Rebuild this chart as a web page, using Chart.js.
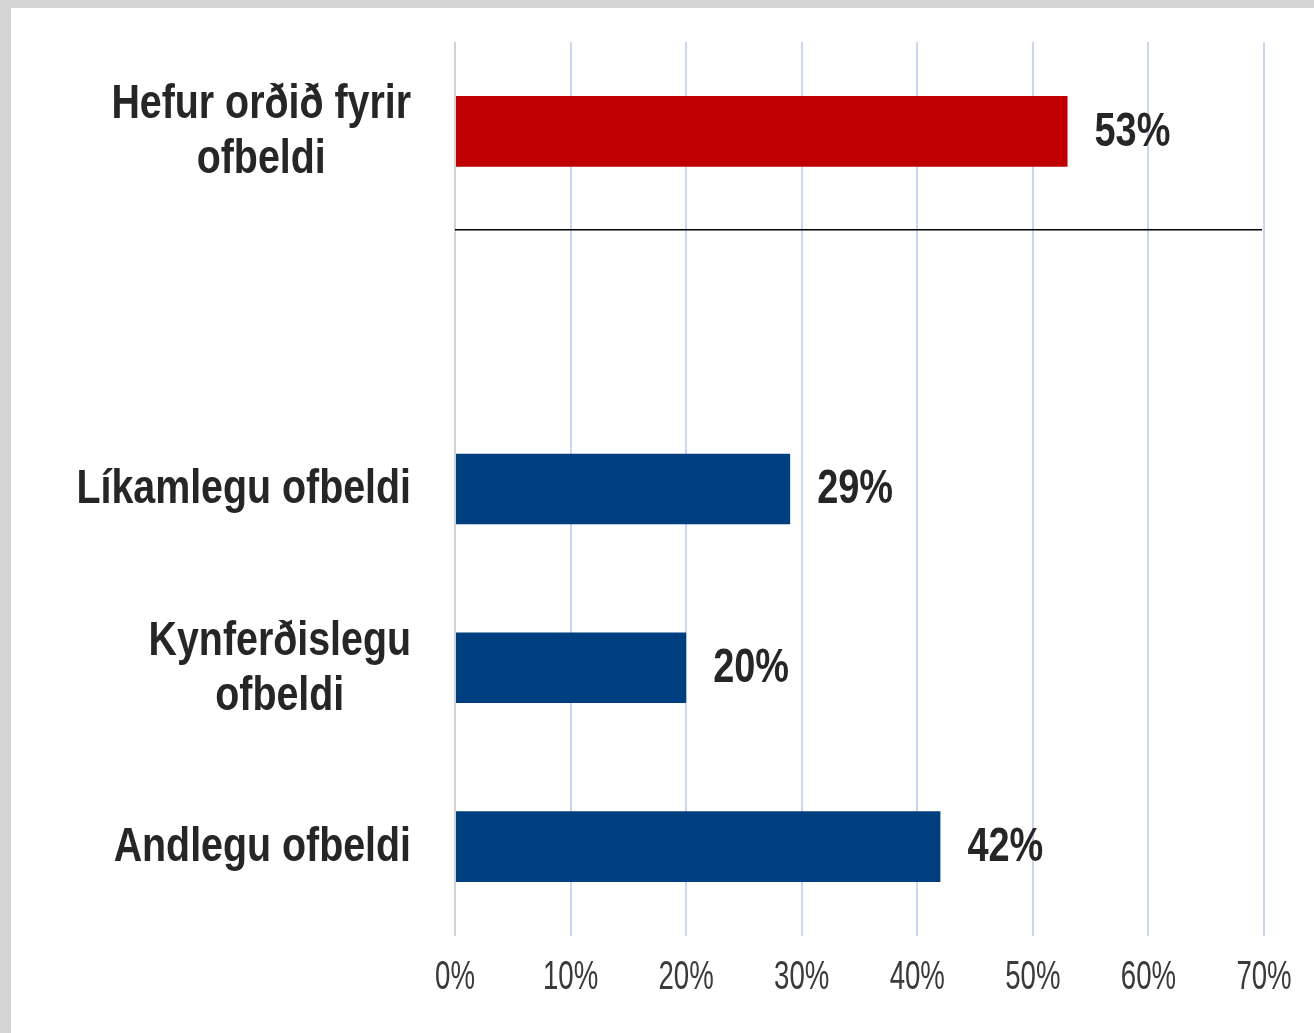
<!DOCTYPE html>
<html>
<head>
<meta charset="utf-8">
<script src="https://cdn.jsdelivr.net/npm/chart.js@4"></script>
<style>
  html, body { margin: 0; padding: 0; background: #d4d4d4; width: 1314px; height: 1033px; overflow: hidden; }
  #frame { position: absolute; left: 11px; top: 8px; width: 1303px; height: 1025px; background: #ffffff; }
  #wrap { position: relative; width: 1303px; height: 1025px; }
</style>
</head>
<body>
<div id="frame"><div id="wrap"><canvas id="c"></canvas></div></div>
<script>
const categories = [['Hefur orðið fyrir', 'ofbeldi'], '', 'Líkamlegu ofbeldi', ['Kynferðislegu', 'ofbeldi'], 'Andlegu ofbeldi'];
const values = [53, null, 29, 20, 42];
const barColors = ['#C00000', 'rgba(0,0,0,0)', '#003F7F', '#003F7F', '#003F7F'];
const xTickValues = [0, 10, 20, 30, 40, 50, 60, 70];
const separatorAfter = 0.55; // between first group and the rest (category units)

const FONT = "'Liberation Sans', Arial, sans-serif";

// draw text horizontally condensed (the source uses a narrow face)
function narrowText(ctx, text, x, y, sx) {
  ctx.save();
  ctx.translate(x, y);
  ctx.scale(sx, 1);
  ctx.fillText(text, 0, 0);
  ctx.restore();
}

const categoryLabelPlugin = {
  id: 'categoryLabels',
  afterDraw(chart) {
    const y = chart.scales.y;
    const ctx = chart.ctx;
    const sx = 0.82;
    ctx.save();
    ctx.font = "bold 48px " + FONT;
    ctx.fillStyle = '#262626';
    ctx.textAlign = 'center';
    ctx.textBaseline = 'middle';
    const rightEdge = chart.chartArea.left - 44;
    const lh = 55;
    categories.forEach((lab, i) => {
      const lines = Array.isArray(lab) ? lab : [lab];
      if (!lines.join('')) return;
      const w = Math.max(...lines.map(l => ctx.measureText(l).width)) * sx;
      const cx = rightEdge - w / 2;
      const cy = y.getPixelForTick(i) + 1;
      lines.forEach((l, j) => {
        narrowText(ctx, l, cx, cy + (j - (lines.length - 1) / 2) * lh, sx);
      });
    });
    ctx.restore();
  }
};

const valueLabelPlugin = {
  id: 'valueLabels',
  afterDatasetsDraw(chart) {
    const ctx = chart.ctx;
    const meta = chart.getDatasetMeta(0);
    ctx.save();
    ctx.font = "bold 48px " + FONT;
    ctx.fillStyle = '#262626';
    ctx.textAlign = 'left';
    ctx.textBaseline = 'middle';
    meta.data.forEach((el, i) => {
      if (values[i] == null) return;
      narrowText(ctx, values[i] + '%', el.x + 27, el.y + 1, 0.79);
    });
    ctx.restore();
  }
};

const separatorPlugin = {
  id: 'separator',
  afterDatasetsDraw(chart) {
    const ctx = chart.ctx;
    const y = chart.scales.y.getPixelForValue(separatorAfter);
    ctx.save();
    ctx.strokeStyle = '#000000';
    ctx.lineWidth = 1.5;
    ctx.beginPath();
    ctx.moveTo(chart.chartArea.left, y);
    ctx.lineTo(chart.chartArea.right - 2, y);
    ctx.stroke();
    ctx.restore();
  }
};

// condense the x-axis tick labels drawn by the library (scales are drawn between these hooks)
const condensedTicksPlugin = {
  id: 'condensedTicks',
  beforeDraw(chart) {
    const ctx = chart.ctx;
    const orig = ctx.fillText;
    ctx.fillText = function (t, x, y, mw) {
      this.save();
      this.translate(x, y);
      this.scale(0.69, 1);
      if (mw !== undefined) orig.call(this, t, 0, 0, mw); else orig.call(this, t, 0, 0);
      this.restore();
    };
  },
  beforeDatasetsDraw(chart) {
    delete chart.ctx.fillText;
  }
};

new Chart(document.getElementById('c'), {
  type: 'bar',
  data: {
    labels: categories,
    datasets: [{
      data: values,
      backgroundColor: barColors,
      borderWidth: 0,
      barPercentage: 0.395,
      categoryPercentage: 1.0
    }]
  },
  options: {
    indexAxis: 'y',
    responsive: true,
    maintainAspectRatio: false,
    animation: false,
    layout: { padding: { top: 34, right: 50, bottom: 0, left: 0 } },
    plugins: { legend: { display: false }, tooltip: { enabled: false }, title: { display: false } },
    scales: {
      x: {
        type: 'linear',
        min: 0,
        max: 70,
        afterBuildTicks: (scale) => { scale.ticks = xTickValues.map(v => ({ value: v })); },
        afterFit: (scale) => { scale.height = 97; },
        grid: {
          drawTicks: false,
          lineWidth: 2,
          color: (c) => (c.index === 0 ? '#d2d2d2' : '#c8d6ef')
        },
        border: { display: false },
        ticks: {
          padding: 0,
          color: '#3a3a3a',
          font: { family: FONT, size: 40, lineHeight: '84px' },
          callback: (v) => v + '%'
        }
      },
      y: {
        type: 'category',
        offset: true,
        afterFit: (scale) => { scale.width = 444; },
        grid: { display: false },
        border: { display: false },
        ticks: { display: false }
      }
    }
  },
  plugins: [condensedTicksPlugin, categoryLabelPlugin, valueLabelPlugin, separatorPlugin]
});
</script>
</body>
</html>
